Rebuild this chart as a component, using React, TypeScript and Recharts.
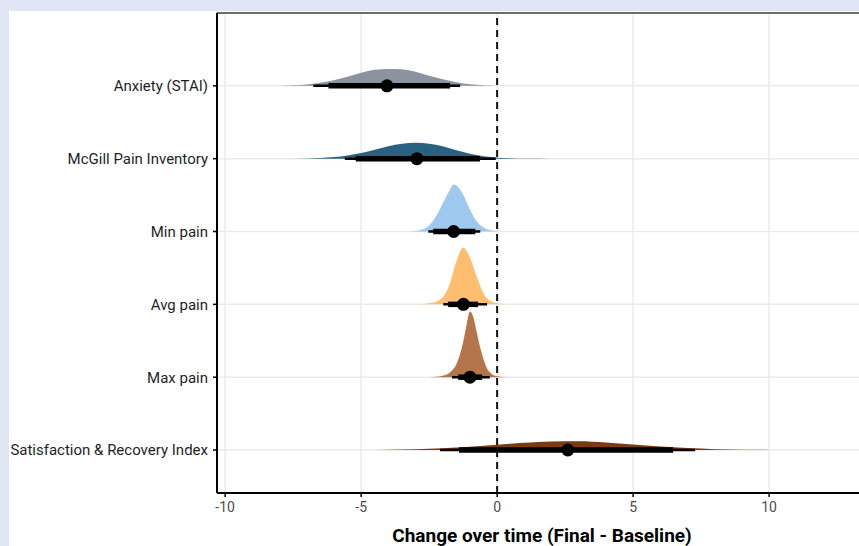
import React from 'react';
import {
  ComposedChart,
  Area,
  Line,
  Scatter,
  XAxis,
  YAxis,
  CartesianGrid,
  ReferenceLine
} from 'recharts';

// top to bottom, as drawn
const categories = [
  'Anxiety (STAI)',
  'McGill Pain Inventory',
  'Min pain',
  'Avg pain',
  'Max pain',
  'Satisfaction & Recovery Index'
];
const slabColors = ['#8b93a1', '#2b6180', '#9ec8ed', '#ffbe6f', '#b5754b', '#7b3a12'];

// posterior summaries of change (Final - Baseline)
const medians = [-4.05, -2.95, -1.6, -1.24, -1.0, 2.6];
const inner66Low = [-6.2, -5.2, -2.35, -1.8, -1.43, -1.4];
const inner66High = [-1.73, -0.63, -0.8, -0.7, -0.55, 6.47];
const outer95Low = [-6.76, -5.6, -2.53, -1.98, -1.66, -2.1];
const outer95High = [-1.36, -0.05, -0.62, -0.37, -0.27, 7.28];

// slab heights [x, density]
const anxietySlab = [
  [-9, 0], [-8, 0.2], [-7.5, 0.5], [-7, 1.3], [-6.5, 3], [-6, 5.5], [-5.5, 9], [-5, 13],
  [-4.5, 16], [-4, 17], [-3.5, 16.5], [-3, 14], [-2.5, 10], [-2, 6.5], [-1.5, 3.5],
  [-1, 1.5], [-0.5, 0.6], [0, 0.2], [0.5, 0]
];
const mcgillSlab = [
  [-8, 0], [-7, 0.3], [-6.5, 0.7], [-6, 1.6], [-5.5, 3.3], [-5, 5.8], [-4.5, 9], [-4, 12.5],
  [-3.5, 15], [-3, 16], [-2.5, 15], [-2, 12.5], [-1.5, 8.5], [-1, 5], [-0.5, 2.5],
  [0, 1], [0.5, 0.4], [1, 0.15], [2, 0]
];
const minSlab = [
  [-3.25, 0], [-3, 0.5], [-2.75, 2], [-2.5, 6], [-2.25, 15], [-2, 28], [-1.75, 41],
  [-1.6, 47], [-1.5, 46], [-1.25, 37], [-1, 22], [-0.75, 10], [-0.5, 4], [-0.25, 1.2],
  [0, 0.3], [0.25, 0]
];
const avgSlab = [
  [-3, 0], [-2.75, 0.3], [-2.5, 1], [-2.25, 2.5], [-2, 7], [-1.75, 20], [-1.5, 43],
  [-1.25, 57], [-1, 47], [-0.75, 28], [-0.5, 11], [-0.25, 3.5], [0, 1], [0.25, 0.3], [0.5, 0]
];
const maxSlab = [
  [-2.5, 0], [-2.25, 0.4], [-2, 1.5], [-1.75, 4.5], [-1.5, 13], [-1.375, 22], [-1.25, 35],
  [-1.125, 52], [-1, 66], [-0.875, 60], [-0.75, 45], [-0.625, 30], [-0.5, 18],
  [-0.375, 9], [-0.25, 4.5], [0, 1], [0.25, 0.2], [0.5, 0]
];
const satisfactionSlab = [
  [-5, 0], [-4, 0.2], [-3, 0.7], [-2, 1.7], [-1, 3.3], [0, 5.2], [1, 7.2], [2, 8.6],
  [3, 8.7], [4, 7.5], [5, 5.6], [6, 3.6], [7, 2.0], [8, 0.9], [9, 0.4], [10, 0.15],
  [11, 0.05], [12, 0]
];
const slabs = [anxietySlab, mcgillSlab, minSlab, avgSlab, maxSlab, satisfactionSlab];

const xTicks = [-10, -5, 0, 5, 10];

// density units -> category units
const SLAB_SCALE = 1 / 73;

const n = categories.length;
const rowPos = categories.map((_, i) => n - i);

const App = () => {
  return (
    <div
      style={{
        position: 'fixed',
        top: 0,
        left: 0,
        width: 859,
        height: 546,
        overflow: 'hidden',
        background: '#e1e6f4'
      }}
    >
      <div style={{ position: 'absolute', left: 9, top: 11, width: 880, height: 560, background: '#fff' }}>
        <ComposedChart
          width={880}
          height={545}
          margin={{ top: 2, right: 22, bottom: 33, left: 0 }}
          style={{ fontFamily: 'Roboto, sans-serif' }}
        >
          <CartesianGrid stroke="#ebebeb" strokeWidth={1.5} />
          <XAxis
            type="number"
            dataKey="x"
            domain={[-10.3, 13.6]}
            allowDataOverflow
            ticks={xTicks}
            tickSize={4}
            tickMargin={5}
            height={30}
            axisLine={{ stroke: '#000', strokeWidth: 2 }}
            tickLine={{ stroke: '#000', strokeWidth: 1.5 }}
            tick={{ fontSize: 14, fill: '#4d4d4d' }}
            label={{
              value: 'Change over time (Final - Baseline)',
              position: 'bottom',
              offset: 6,
              style: { fontSize: 19, fontWeight: 700, fill: '#000' }
            }}
          />
          <YAxis
            type="number"
            dataKey="y"
            domain={[0.41, 7]}
            allowDataOverflow
            ticks={rowPos}
            tickFormatter={(v: number) => categories[n - v] ?? ''}
            width={208}
            tickSize={4}
            tickMargin={5}
            axisLine={{ stroke: '#000', strokeWidth: 2 }}
            tickLine={{ stroke: '#000', strokeWidth: 1.5 }}
            tick={{ fontSize: 15, fill: '#1f1f1f' }}
          />
          <ReferenceLine y={7} stroke="#444" strokeWidth={1.5} />

          {slabs.map((slab, i) => (
            <Area
              key={'slab' + i}
              data={slab.map(([x, d]) => ({ x, y: rowPos[i] + d * SLAB_SCALE }))}
              dataKey="y"
              type="monotone"
              baseValue={rowPos[i]}
              stroke="none"
              fill={slabColors[i]}
              fillOpacity={1}
              isAnimationActive={false}
            />
          ))}

          <ReferenceLine x={0} stroke="#111" strokeWidth={2} strokeDasharray="7 5" />

          {categories.map((c, i) => (
            <Line
              key={'outer' + i}
              data={[
                { x: outer95Low[i], y: rowPos[i] },
                { x: outer95High[i], y: rowPos[i] }
              ]}
              dataKey="y"
              stroke="#000"
              strokeWidth={2.5}
              dot={false}
              activeDot={false}
              isAnimationActive={false}
            />
          ))}
          {categories.map((c, i) => (
            <Line
              key={'inner' + i}
              data={[
                { x: inner66Low[i], y: rowPos[i] },
                { x: inner66High[i], y: rowPos[i] }
              ]}
              dataKey="y"
              stroke="#000"
              strokeWidth={5.5}
              dot={false}
              activeDot={false}
              isAnimationActive={false}
            />
          ))}
          <Scatter
            data={medians.map((m, i) => ({ x: m, y: rowPos[i] }))}
            dataKey="y"
            isAnimationActive={false}
            shape={(p: any) => <circle cx={p.cx} cy={p.cy} r={6.5} fill="#000" />}
          />
        </ComposedChart>
      </div>
    </div>
  );
};

export default App;
